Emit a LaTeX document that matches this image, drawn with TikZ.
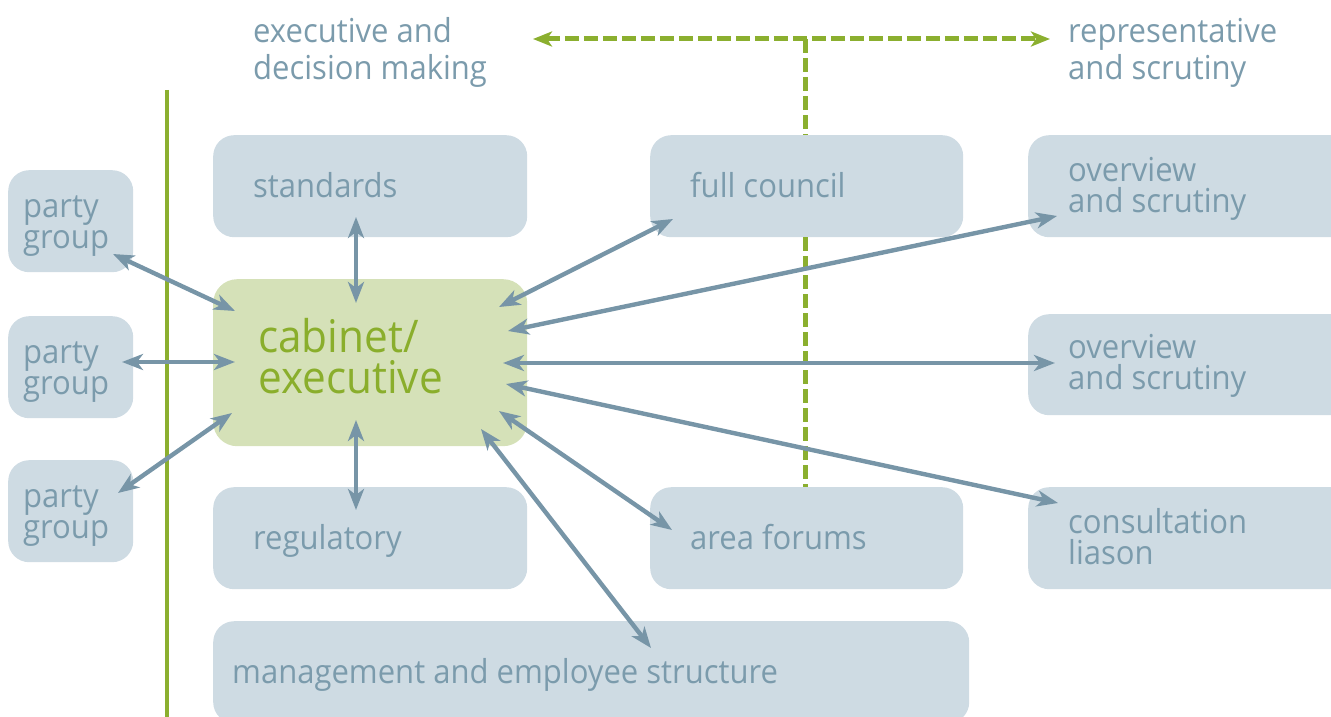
\documentclass[tikz,border=0pt]{standalone}
\usepackage{fontspec}
\setmainfont{Open Sans}[FakeStretch=0.94]
\usetikzlibrary{arrows.meta,calc}
\definecolor{boxfill}{HTML}{CEDBE3}
\definecolor{boxtext}{HTML}{7B9BAC}
\definecolor{arrowc}{HTML}{7795A7}
\definecolor{lgreen}{HTML}{8BAF2F}
\definecolor{cabfill}{HTML}{D5E1B8}
\definecolor{cabtext}{HTML}{8AAE2C}
\begin{document}
\begin{tikzpicture}[x=1pt,y=-1pt,
  box/.style={fill=boxfill, rounded corners=21pt, inner sep=0pt, anchor=north west},
  lbl/.style={text=boxtext, font=\fontsize{33}{31}\selectfont, align=left, anchor=base west, inner sep=0pt},
  head/.style={lbl, font=\fontsize{33}{37}\selectfont},
  conn/.style={draw=arrowc, line width=4.4pt, {Stealth[length=21pt,width=16pt,inset=6pt]}-{Stealth[length=21pt,width=16pt,inset=6pt]}},
  gdash/.style={draw=lgreen, line width=5pt, dash pattern=on 14pt off 5pt},
  garrow/.style={gdash, {Stealth[length=19pt,width=15pt,inset=5pt]}-{Stealth[length=19pt,width=15pt,inset=5pt]}}
]
\useasboundingbox (0,0) rectangle (1331,717);
\clip (0,0) rectangle (1331,717);

% boxes
\node[box, minimum width=125pt, minimum height=102pt] (pg1) at (8,170) {};
\node[box, minimum width=125pt, minimum height=102pt] (pg2) at (8,316) {};
\node[box, minimum width=125pt, minimum height=102pt] (pg3) at (8,460) {};
\node[box, minimum width=314pt, minimum height=102pt] (std) at (213,135) {};
\node[box, minimum width=313pt, minimum height=102pt] (fc) at (650,135) {};
\node[box, minimum width=330pt, minimum height=102pt] (ov1) at (1028,135) {};
\node[box, fill=cabfill, rounded corners=24pt, minimum width=314pt, minimum height=167pt] (cab) at (213,279) {};
\node[box, minimum width=330pt, minimum height=101pt] (ov2) at (1028,314) {};
\node[box, minimum width=314pt, minimum height=102pt] (reg) at (213,487) {};
\node[box, minimum width=313pt, minimum height=102pt] (af) at (650,487) {};
\node[box, minimum width=330pt, minimum height=102pt] (cons) at (1028,487) {};
\node[box, minimum width=756pt, minimum height=102pt] (mgmt) at (213,621) {};

% labels (base anchor = baseline of last line)
\node[head] (hl) at (253,80) {executive and\\decision making};
\node[head] (hr) at (1068,80) {representative\\and scrutiny};
\node[lbl] (tpg1) at (23,248) {party\\group};
\node[lbl] (tpg2) at (23,394) {party\\group};
\node[lbl] (tpg3) at (23,538) {party\\group};
\node[lbl] (tstd) at (253,197) {standards};
\node[lbl] (tfc) at (690,197) {full council};
\node[lbl] (tov1) at (1068,212) {overview\\and scrutiny};
\node[lbl] (tov2) at (1068,389) {overview\\and scrutiny};
\node[lbl, text=cabtext, font=\fontsize{45}{41}\selectfont] (tcab) at (258,393) {cabinet/\\executive};
\node[lbl] (treg) at (253,549) {regulatory};
\node[lbl] (taf) at (690,549) {area forums};
\node[lbl] (tcons) at (1068,564) {consultation\\liason};
\node[lbl] (tmgmt) at (232,683) {management and employee structure};

% green solid divider
\coordinate (vtop) at (167,90);
\coordinate (vbot) at (167,730);
\draw[lgreen, line width=4pt] (vtop) -- (vbot);

% green dashed
\coordinate (dl) at (533,39);
\coordinate (dr) at (1050,39);
\coordinate (dj) at (805,39);
\draw[garrow] (dl) -- (dr);
\draw[gdash] (dj) -- (dj |- fc.north);
\draw[gdash] (dj |- fc.south) -- (dj |- af.north);

% connectors
\draw[conn] ($(pg1.north west)+(105,84)$) -- ($(cab.north west)+(22,32)$);
\draw[conn] ($(pg2.north west)+(114,46)$) -- ($(cab.north west)+(22,83)$);
\draw[conn] ($(pg3.north west)+(110,33)$) -- ($(cab.north west)+(19,134)$);
\draw[conn] ($(std.north west)+(143,82)$) -- ($(cab.north west)+(143,24)$);
\draw[conn] ($(cab.north west)+(143,141)$) -- ($(reg.north west)+(143,23)$);
\draw[conn] ($(cab.north west)+(286,28)$) -- ($(fc.north west)+(23,84)$);
\draw[conn] ($(cab.north west)+(295,52)$) -- ($(ov1.north west)+(29,81)$);
\draw[conn] ($(cab.north west)+(290,84)$) -- ($(ov2.north west)+(27,49)$);
\draw[conn] ($(cab.north west)+(293,105)$) -- ($(cons.north west)+(30,16)$);
\draw[conn] ($(cab.north west)+(286,132)$) -- ($(af.north west)+(22,43)$);
\draw[conn] ($(cab.north west)+(268,150)$) -- ($(mgmt.north west)+(438,27)$);
\end{tikzpicture}
\end{document}
